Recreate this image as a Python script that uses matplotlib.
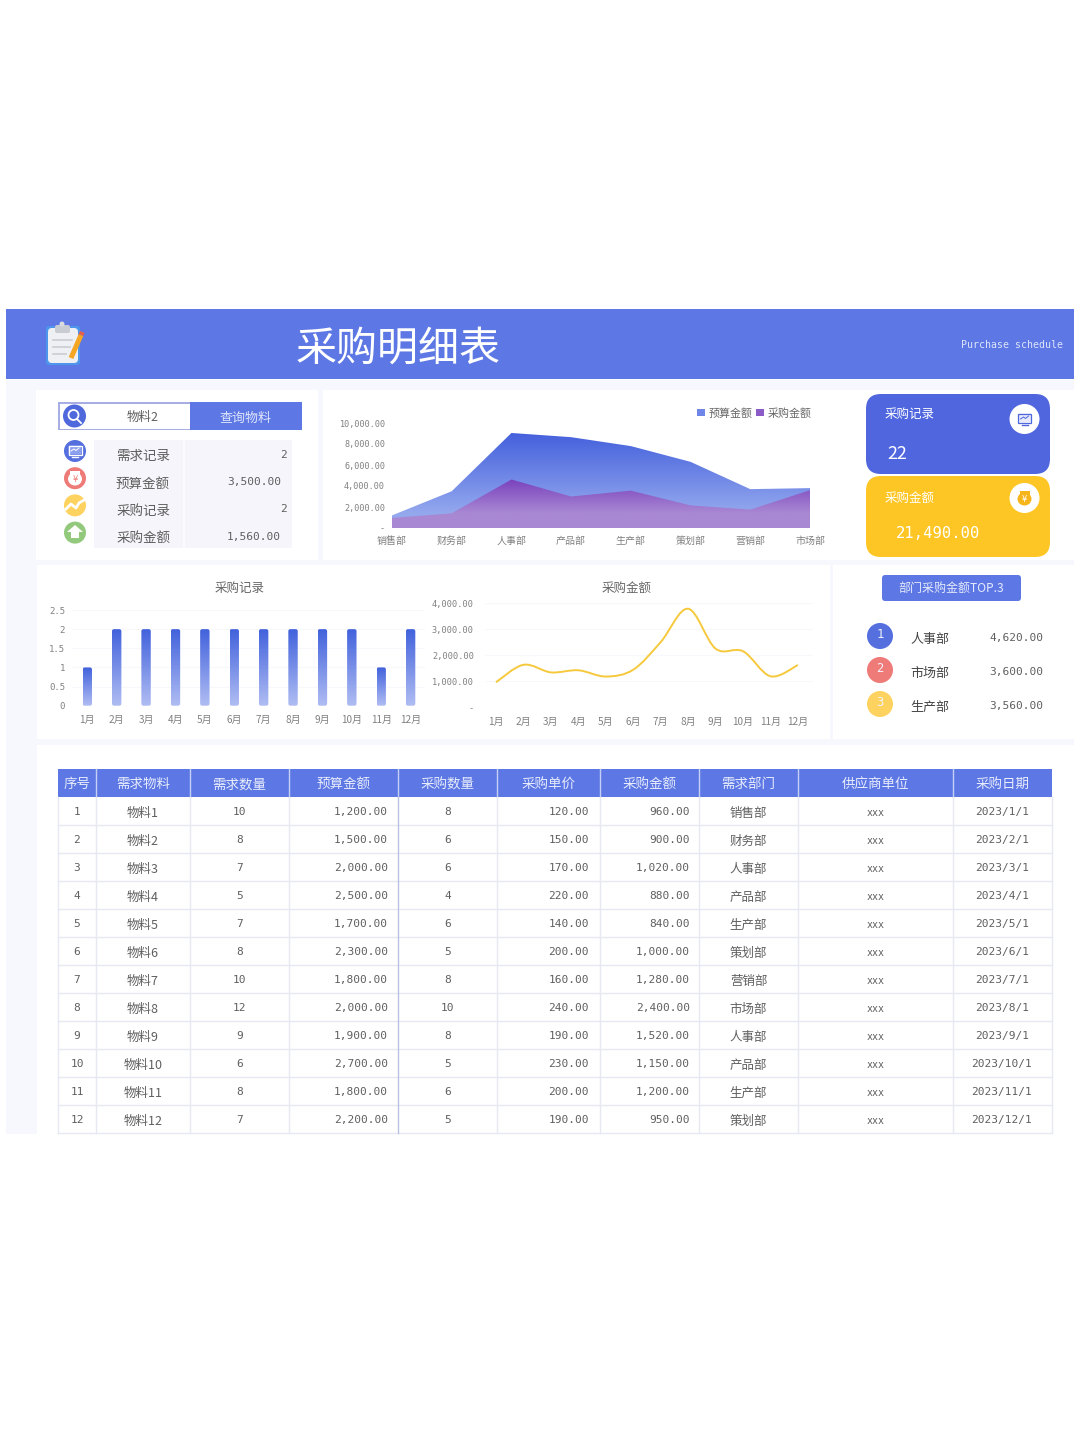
import numpy as np
import matplotlib
matplotlib.use("Agg")
import matplotlib.pyplot as plt
from matplotlib.patches import Rectangle, FancyBboxPatch, Circle, Ellipse, Polygon, PathPatch
from matplotlib.path import Path
from matplotlib.colors import LinearSegmentedColormap
from matplotlib.ticker import FuncFormatter

plt.rcParams['font.family'] = ['Noto Sans CJK SC', 'DejaVu Sans']

W, H = 1080, 1443
MONO = 'DejaVu Sans Mono'

# area chart
depts = ['销售部', '财务部', '人事部', '产品部', '生产部', '策划部', '营销部', '市场部']
dept_budget = [1200, 3500, 9050, 8650, 7800, 6300, 3700, 3800]
dept_purchase = [960, 1400, 4620, 3000, 3560, 2150, 1750, 3600]

# monthly charts
months = ['1月', '2月', '3月', '4月', '5月', '6月', '7月', '8月', '9月', '10月', '11月', '12月']
month_records = [1, 2, 2, 2, 2, 2, 2, 2, 2, 2, 1, 2]
month_amount = [960, 1630, 1340, 1420, 1180, 1440, 2500, 3780, 2250, 2150, 1190, 1620]

# query box and cards
info_labels = ['需求记录', '预算金额', '采购记录', '采购金额']
info_values = ['2', '3,500.00', '2', '1,560.00']
top_depts = ['人事部', '市场部', '生产部']
top_values = ['4,620.00', '3,600.00', '3,560.00']

# table
headers = ['序号', '需求物料', '需求数量', '预算金额', '采购数量', '采购单价', '采购金额', '需求部门', '供应商单位', '采购日期']
col_no = [str(i) for i in range(1, 13)]
col_item = ['物料1', '物料2', '物料3', '物料4', '物料5', '物料6', '物料7', '物料8', '物料9', '物料10', '物料11', '物料12']
col_need = [10, 8, 7, 5, 7, 8, 10, 12, 9, 6, 8, 7]
col_budget = [1200, 1500, 2000, 2500, 1700, 2300, 1800, 2000, 1900, 2700, 1800, 2200]
col_qty = [8, 6, 6, 4, 6, 5, 8, 10, 8, 5, 6, 5]
col_price = [120, 150, 170, 220, 140, 200, 160, 240, 190, 230, 200, 190]
col_amount = [960, 900, 1020, 880, 840, 1000, 1280, 2400, 1520, 1150, 1200, 950]
col_dept = ['销售部', '财务部', '人事部', '产品部', '生产部', '策划部', '营销部', '市场部', '人事部', '产品部', '生产部', '策划部']
col_date = ['2023/1/1', '2023/2/1', '2023/3/1', '2023/4/1', '2023/5/1', '2023/6/1',
            '2023/7/1', '2023/8/1', '2023/9/1', '2023/10/1', '2023/11/1', '2023/12/1']

BLUE = '#5d78e4'
GREY = '#5f5f5f'
TICK = '#808080'
GRID = '#f7f8fb'


def fs(px):
    return px * 0.72


fig = plt.figure(figsize=(W / 100, H / 100), dpi=100, facecolor='white')
bg = fig.add_axes([0, 0, 1, 1])
bg.set_xlim(0, W)
bg.set_ylim(H, 0)
bg.axis('off')


def rect(x0, y0, x1, y1, color, z=1, **kw):
    bg.add_patch(Rectangle((x0, y0), x1 - x0, y1 - y0, fc=color, ec='none', zorder=z, **kw))


def rbox(x0, y0, x1, y1, r, color, z=2):
    bg.add_patch(FancyBboxPatch((x0 + r, y0 + r), x1 - x0 - 2 * r, y1 - y0 - 2 * r,
                                boxstyle='round,pad=%f,rounding_size=%f' % (r, r),
                                fc=color, ec='none', zorder=z))


def txt(x, y, s, px=13, color=GREY, ha='center', mono=False, z=6):
    # CJK glyphs sit a little high with va=center
    if mono:
        bg.text(x, y, s, fontsize=fs(px), color=color, ha=ha, va='center', family=MONO, zorder=z)
    else:
        bg.text(x, y + px * 0.09, s, fontsize=fs(px), color=color, ha=ha, va='center',
                family=['Noto Sans CJK SC', 'DejaVu Sans'], zorder=z)


def money(v):
    return '{:,.2f}'.format(v)


def axes_px(l, t, r, b):
    ax = fig.add_axes([l / W, 1 - b / H, (r - l) / W, (b - t) / H])
    ax.patch.set_alpha(0)
    for s in ax.spines.values():
        s.set_visible(False)
    return ax


def gradient(ax, extent, top, bottom, clip, z=2, stop=1.0):
    cmap = LinearSegmentedColormap.from_list('g', [(0, top), (stop, bottom), (1, bottom)])
    im = ax.imshow(np.linspace(0, 1, 128).reshape(-1, 1), extent=extent, cmap=cmap,
                   aspect='auto', origin='upper', zorder=z, interpolation='bilinear')
    im.set_clip_path(clip)


# page background and panels
rect(6, 380, 1074, 1134, '#f6f8fe', 0)
rect(6, 309, 1074, 379, BLUE, 1)
for p in [(36, 390, 318, 560), (323, 390, 862, 560), (862, 390, 1074, 560),
          (37, 565, 830, 739), (833, 565, 1074, 739), (37, 745, 1074, 1134)]:
    rect(*p, 'white', 1)

# header
txt(398, 345, '采购明细表', 41, 'white')
txt(1063, 345, 'Purchase schedule', 9.9, '#dfe5fb', ha='right', mono=True)
rbox(46, 326, 80, 365, 3, '#4d96ec', 3)
rbox(48, 328, 78, 363, 4, '#eef0f4', 4)
rbox(55, 325, 70, 333, 2, '#c9ccd2', 5)
bg.add_patch(Circle((62, 324), 2.5, fc='#d9dbe0', ec='none', zorder=5))
for yy, xe in zip([340, 347, 354], [72, 70, 66]):
    bg.plot([53, xe], [yy, yy], color='#c9ccd2', lw=1.2, zorder=5)
bg.plot([71, 81], [358, 335], color='#f5a623', lw=3.6, solid_capstyle='butt', zorder=5)
bg.plot([81, 82.3], [335, 332], color='#e8604c', lw=3.6, solid_capstyle='butt', zorder=5)

# query box
rect(58, 402, 190, 430, '#a6aee3', 2)
rect(59.5, 403.5, 190, 428.5, 'white', 3)
rect(190, 402, 302, 430, BLUE, 3)
bg.add_patch(Circle((74.5, 416), 11.5, fc='#4f69dc', ec='none', zorder=4))
bg.add_patch(Circle((73.5, 415), 5, fc='none', ec='white', lw=1.3, zorder=5))
bg.plot([77, 81], [419, 423], color='white', lw=1.3, zorder=5)
txt(143, 416, '物料2', 12.5)
txt(246, 417, '查询物料', 13, '#dfe5fb')

# info rows
rect(94, 440, 292, 548, '#f5f5fb', 2)
rect(183, 440, 185, 548, '#fbfbfe', 3)
icon_colors = ['#5570de', '#ee7b78', '#fdd25e', '#93c97c']
for i, (lab, val, c) in enumerate(zip(info_labels, info_values, icon_colors)):
    y = 455 + i * 27.2
    txt(143, y, lab, 13.5)
    txt(281 if ',' in val else 287, y, val, 11.1, GREY, ha='right', mono=True)
    bg.add_patch(Circle((75, y - 4), 11, fc=c, ec='none', zorder=4))


def monitor(x, y, fc, ec):
    rbox(x - 6.5, y - 5.5, x + 6.5, y + 3.5, 1, fc, 7)
    bg.add_patch(Rectangle((x - 6.5, y - 5.5), 13, 9, fc='none', ec=ec, lw=0.9, zorder=8))
    bg.plot([x - 4, x - 1, x + 1, x + 4], [y, y - 2, y - 0.5, y - 3], color=ec, lw=0.7, zorder=8)
    bg.plot([x - 3, x + 3], [y + 5.5, y + 5.5], color=ec, lw=1, zorder=8)


def pig(x, y, fc, mark):
    bg.add_patch(Ellipse((x, y + 1), 14, 13, fc=fc, ec='none', zorder=7))
    bg.add_patch(Rectangle((x - 5, y - 7), 10, 4, fc=fc, ec='none', zorder=7))
    bg.text(x, y + 1, '¥', fontsize=6, color=mark, ha='center', va='center', zorder=8, family='DejaVu Sans')


monitor(75, 451, '#8da0ee', 'white')
pig(75, 478, 'white', '#ee7b78')
bg.plot([66, 71, 76, 79, 84], [509, 504, 508, 503, 500], color='white', lw=2, zorder=7)
bg.add_patch(Polygon([(75, 525), (83, 532), (79, 532), (79, 538), (71, 538), (71, 532), (67, 532)],
                     fc='white', ec='none', zorder=7))

# cards
rbox(866, 394, 1050, 474, 15, '#4f66df', 2)
rbox(866, 476, 1050, 557, 15, '#fdc624', 2)
txt(885, 413, '采购记录', 12.5, 'white', ha='left')
txt(887, 452, '22', 18, 'white', ha='left')
txt(885, 497, '采购金额', 12.5, 'white', ha='left')
txt(896, 534, money(21490), 15.5, 'white', ha='left', mono=True)
bg.add_patch(Circle((1024.5, 419), 15, fc='white', ec='none', zorder=4))
bg.add_patch(Circle((1024.5, 498), 15, fc='white', ec='none', zorder=4))
monitor(1024.5, 419, '#e6eafb', '#4f66df')
pig(1024.5, 498, '#f5b51b', 'white')

# area chart
ax = axes_px(392, 423, 810, 528)
xs = np.arange(len(depts))
p1 = ax.fill_between(xs, 0, dept_budget, color='none', lw=0)
p2 = ax.fill_between(xs, 0, dept_purchase, color='none', lw=0)
gradient(ax, [0, 7, 0, max(dept_budget)], '#4460dc', '#94a8ee',
         PathPatch(p1.get_paths()[0], transform=ax.transData), 2, stop=0.85)
gradient(ax, [0, 7, 0, max(dept_purchase)], '#7a42bd', '#a988d3',
         PathPatch(p2.get_paths()[0], transform=ax.transData), 3, stop=0.7)
ax.set_xlim(0, len(depts) - 1)
ax.set_ylim(0, 10000)
ax.set_xticks(xs, depts)
ax.set_yticks(range(0, 10001, 2000))
ax.yaxis.set_major_formatter(FuncFormatter(lambda v, _: money(v) if v else '-'))
ax.tick_params(length=0, labelsize=fs(10), labelcolor=TICK)
ax.tick_params(axis='x', pad=6)
ax.tick_params(axis='y', pad=5, labelfontfamily=MONO, labelsize=fs(8.5))
handles = [Rectangle((0, 0), 1, 1, fc='#6f86e6'), Rectangle((0, 0), 1, 1, fc='#8c5cc6')]
ax.legend(handles, ['预算金额', '采购金额'], ncol=2, frameon=False, loc='center right',
          bbox_to_anchor=(1.003, 1.095), fontsize=fs(11), labelcolor='#666666', handlelength=0.7,
          handleheight=0.7, handletextpad=0.3, columnspacing=0.35, borderpad=0, borderaxespad=0)

# bar chart
txt(240, 587, '采购记录', 12.5, '#666666')
ax = axes_px(72, 610, 425, 705.7)
xs = np.arange(len(months))
aspect = (2.5 / 95.7) / (1 / 29.4)
bars = ax.bar(xs, month_records, width=0.32, color='none', lw=0)
for b in bars:
    x0, w, h = b.get_x(), b.get_width(), b.get_height()
    box = FancyBboxPatch((x0, 0), w, h, boxstyle='round,pad=0,rounding_size=0.07',
                         mutation_aspect=aspect, transform=ax.transData, fc='none', ec='none')
    ax.add_patch(box)
    gradient(ax, [x0, x0 + w, 0, h], '#4262dc', '#b0bdf3', box, 3)
ax.set_xlim(-0.52, 11.49)
ax.set_ylim(0, 2.5)
ax.set_xticks(xs, months)
ax.set_yticks([0, 0.5, 1, 1.5, 2, 2.5])
ax.yaxis.set_major_formatter(FuncFormatter(lambda v, _: '%g' % v))
ax.grid(axis='y', color=GRID, lw=0.8)
ax.set_axisbelow(True)
ax.tick_params(length=0, labelsize=fs(10), labelcolor=TICK)
ax.tick_params(axis='x', pad=7)
ax.tick_params(axis='y', pad=5, labelfontfamily=MONO, labelsize=fs(9))

# line chart, curve through the monthly values
txt(627, 587, '采购金额', 12.5, '#666666')
ax = axes_px(485, 603, 813, 707.3)
pts = np.column_stack([xs, month_amount]).astype(float)
verts = [pts[0]]
codes = [Path.MOVETO]
for i in range(len(pts) - 1):
    p0 = pts[max(i - 1, 0)]
    p3 = pts[min(i + 2, len(pts) - 1)]
    verts += [pts[i] + (pts[i + 1] - p0) / 6, pts[i + 1] - (p3 - pts[i]) / 6, pts[i + 1]]
    codes += [Path.CURVE4] * 3
ax.add_patch(PathPatch(Path(verts, codes), fc='none', ec='#f6c93c', lw=1.4, zorder=3))
ax.set_xlim(-0.4, 11.55)
ax.set_ylim(0, 4000)
ax.set_xticks(xs, months)
ax.set_yticks(range(0, 4001, 1000))
ax.yaxis.set_major_formatter(FuncFormatter(lambda v, _: money(v) if v else '-'))
ax.grid(axis='y', color=GRID, lw=0.8)
ax.set_axisbelow(True)
ax.tick_params(length=0, labelsize=fs(10), labelcolor=TICK)
ax.tick_params(axis='x', pad=7)
ax.tick_params(axis='y', pad=8, labelfontfamily=MONO, labelsize=fs(8.7))

# top 3 list
rbox(882, 575, 1021, 601, 3, BLUE, 2)
txt(951.5, 587, '部门采购金额TOP.3', 12, '#e5eafc')
for i, (d, v, c) in enumerate(zip(top_depts, top_values, icon_colors)):
    y = 637 + i * 34
    bg.add_patch(Circle((880, y - 1), 13, fc=c, ec='none', zorder=3))
    txt(880, y - 2, str(i + 1), 12, '#f2f4fd', mono=True)
    txt(910, y + 1, d, 13, '#444444', ha='left')
    txt(1043, y + 1, v, 11.1, GREY, ha='right', mono=True)

# table
cols = [58, 96, 190, 289, 398, 497, 600, 699, 798, 953, 1052]
head_top, head_bot, row_h = 769, 797, 28
n = len(col_no)
rect(cols[0], head_top, cols[-1], head_bot, BLUE, 2)
for i, h in enumerate(headers):
    txt((cols[i] + cols[i + 1]) / 2, (head_top + head_bot) / 2, h, 13.5, '#e8ecfc')
    if i:
        bg.plot([cols[i]] * 2, [head_top, head_bot], color='#c5cff5', lw=1, zorder=3)
table_bot = head_bot + n * row_h
for i in range(1, n + 1):
    y = head_bot + i * row_h
    bg.plot([cols[0], cols[-1]], [y, y], color='#e6e8f2', lw=1, zorder=3)
for i, x in enumerate(cols):
    bg.plot([x, x], [head_bot, table_bot], color='#b9c2e4' if x == 398 else '#e6e8f2', lw=1, zorder=3)
for r in range(n):
    y = head_bot + r * row_h + 15
    txt(77, y, col_no[r], 11.1, GREY, mono=True)
    txt(143, y, col_item[r], 12.5)
    txt(239.5, y, str(col_need[r]), 11.1, GREY, mono=True)
    txt(388, y, money(col_budget[r]), 11.1, GREY, ha='right', mono=True)
    txt(447.5, y, str(col_qty[r]), 11.1, GREY, mono=True)
    txt(589, y, money(col_price[r]), 11.1, GREY, ha='right', mono=True)
    txt(690, y, money(col_amount[r]), 11.1, GREY, ha='right', mono=True)
    txt(748.5, y, col_dept[r], 12.5)
    txt(875.5, y + 1, 'xxx', 10, GREY, mono=True)
    txt(1002, y, col_date[r], 11.1, GREY, mono=True)

fig.savefig('out.png', dpi=100, facecolor='white')
